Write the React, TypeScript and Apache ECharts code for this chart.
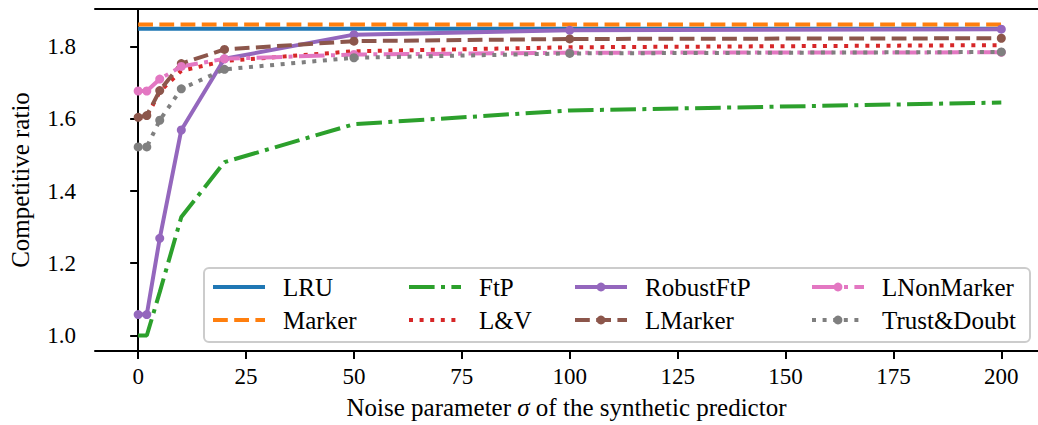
import React, { useEffect, useRef } from "react";
import * as echarts from "echarts";

const sigma = [0, 2, 5, 10, 20, 50, 100, 200];
const lruValues = [1.849, 1.849, 1.849, 1.849, 1.849, 1.849, 1.849, 1.849];
const markerValues = [1.861, 1.861, 1.861, 1.861, 1.861, 1.861, 1.861, 1.861];
const ftpValues = [1.0, 1.0, 1.12, 1.328, 1.48, 1.585, 1.623, 1.645];
const lvValues = [1.6, 1.606, 1.675, 1.733, 1.76, 1.787, 1.798, 1.804];
const robustValues = [1.058, 1.058, 1.269, 1.569, 1.766, 1.833, 1.845, 1.848];
const lmarkerValues = [1.604, 1.609, 1.678, 1.753, 1.792, 1.815, 1.821, 1.823];
const lnonValues = [1.677, 1.677, 1.71, 1.745, 1.766, 1.778, 1.783, 1.784];
const trustValues = [1.522, 1.522, 1.596, 1.683, 1.737, 1.769, 1.781, 1.785];

const xTicks = [0, 25, 50, 75, 100, 125, 150, 175, 200];
const yTicks = [1.0, 1.2, 1.4, 1.6, 1.8];

const FONT = "Liberation Serif";
const FS_TICK = 23;
const FS_TEXT = 25;

type SeriesDef = {
  name: string;
  values: number[];
  color: string;
  dash: number[] | "solid";
  marker: boolean;
};

const seriesDefs: SeriesDef[] = [
  { name: "LRU", values: lruValues, color: "#1f77b4", dash: "solid", marker: false },
  { name: "Marker", values: markerValues, color: "#ff7f0e", dash: [14.8, 6.4], marker: false },
  { name: "FtP", values: ftpValues, color: "#2ca02c", dash: [25.6, 6.4, 4, 6.4], marker: false },
  { name: "L&V", values: lvValues, color: "#d62728", dash: [4, 6.6], marker: false },
  { name: "RobustFtP", values: robustValues, color: "#9467bd", dash: "solid", marker: true },
  { name: "LMarker", values: lmarkerValues, color: "#8c564b", dash: [14.8, 6.4], marker: true },
  { name: "LNonMarker", values: lnonValues, color: "#e377c2", dash: [25.6, 6.4, 4, 6.4], marker: true },
  { name: "Trust&Doubt", values: trustValues, color: "#7f7f7f", dash: [4, 6.6], marker: true },
];

const legendLayout: { name: string; left: number; top: number }[] = [
  { name: "LRU", left: 211, top: 274 },
  { name: "Marker", left: 211, top: 307 },
  { name: "FtP", left: 407, top: 274 },
  { name: "L&V", left: 407, top: 307 },
  { name: "RobustFtP", left: 573, top: 274 },
  { name: "LMarker", left: 573, top: 307 },
  { name: "LNonMarker", left: 810, top: 274 },
  { name: "Trust&Doubt", left: 810, top: 307 },
];

export default function App() {
  const ref = useRef<HTMLDivElement>(null);

  useEffect(() => {
    document.body.style.margin = "0";
    if (!ref.current) return;
    const chart = echarts.init(ref.current, undefined, { renderer: "svg" });

    const series = seriesDefs.map((d) => ({
      name: d.name,
      type: "line",
      data: sigma.map((s, i) => [s, d.values[i]]),
      symbol: d.marker ? "circle" : "none",
      symbolSize: 9,
      showSymbol: d.marker,
      itemStyle: { color: d.color },
      lineStyle: { color: d.color, width: 4, type: d.dash, cap: "butt" },
      emphasis: { disabled: true },
      silent: true,
    }));

    const legends = legendLayout.map((l) => {
      const def = seriesDefs.find((d) => d.name === l.name)!;
      return {
        show: true,
        left: l.left,
        top: l.top,
        padding: 0,
        itemWidth: 52,
        itemHeight: 11,
        selectedMode: false,
        z: 10,
        lineStyle: { width: 4, color: def.color, type: def.dash, cap: "butt" },
        data: [
          def.marker
            ? { name: l.name }
            : { name: l.name, itemStyle: { opacity: 0 } },
        ],
        textStyle: {
          fontFamily: FONT,
          fontSize: FS_TEXT,
          color: "#000",
          lineHeight: 26,
          padding: [0, 0, 0, 13],
        },
      };
    });

    const xMin = -10;
    const xMax = 208.5;

    chart.setOption({
      animation: false,
      backgroundColor: "#fff",
      grid: {
        left: 91,
        top: 9,
        right: 0,
        bottom: 71,
        show: false,
      },
      xAxis: [
        {
          type: "value",
          min: xMin,
          max: xMax,
          name: "Noise parameter {s|σ} of the synthetic predictor",
          nameLocation: "middle",
          nameGap: 44,
          nameTextStyle: {
            fontFamily: FONT,
            fontSize: FS_TEXT,
            color: "#000",
            rich: { s: { fontFamily: FONT, fontSize: FS_TEXT, fontStyle: "italic", color: "#000" } },
          },
          axisLine: { show: true, lineStyle: { color: "#000", width: 2 } },
          axisTick: {
            show: true,
            length: 8,
            lineStyle: { color: "#000", width: 2 },
            customValues: xTicks,
          },
          axisLabel: {
            fontFamily: FONT,
            fontSize: FS_TICK,
            color: "#000",
            margin: 14,
            customValues: xTicks,
            formatter: (v: number) => String(v),
          },
          splitLine: { show: false },
        },
        {
          type: "value",
          position: "top",
          min: xMin,
          max: xMax,
          axisLine: { show: true, lineStyle: { color: "#000", width: 2 } },
          axisTick: { show: false },
          axisLabel: { show: false },
          splitLine: { show: false },
        },
      ],
      yAxis: {
        type: "value",
        min: 0.957,
        max: 1.904,
        name: "Competitive ratio",
        nameLocation: "middle",
        nameGap: 62,
        nameTextStyle: { fontFamily: FONT, fontSize: FS_TEXT, color: "#000" },
        axisLine: { show: true, lineStyle: { color: "#000", width: 2 } },
        axisTick: {
          show: true,
          length: 8,
          lineStyle: { color: "#000", width: 2 },
          customValues: yTicks,
        },
        axisLabel: {
          fontFamily: FONT,
          fontSize: FS_TICK,
          color: "#000",
          margin: 19,
          customValues: yTicks,
          formatter: (v: number) => v.toFixed(1),
        },
        splitLine: { show: false },
      },
      legend: legends,
      graphic: [
        {
          type: "rect",
          z: 5,
          shape: { x: 204, y: 268, width: 826, height: 74, r: 5 },
          style: { fill: "rgba(255,255,255,0.8)", stroke: "#cccccc", lineWidth: 2 },
          silent: true,
        },
      ],
      series,
    });

    return () => chart.dispose();
  }, []);

  return <div ref={ref} style={{ width: 1038, height: 425 }} />;
}
